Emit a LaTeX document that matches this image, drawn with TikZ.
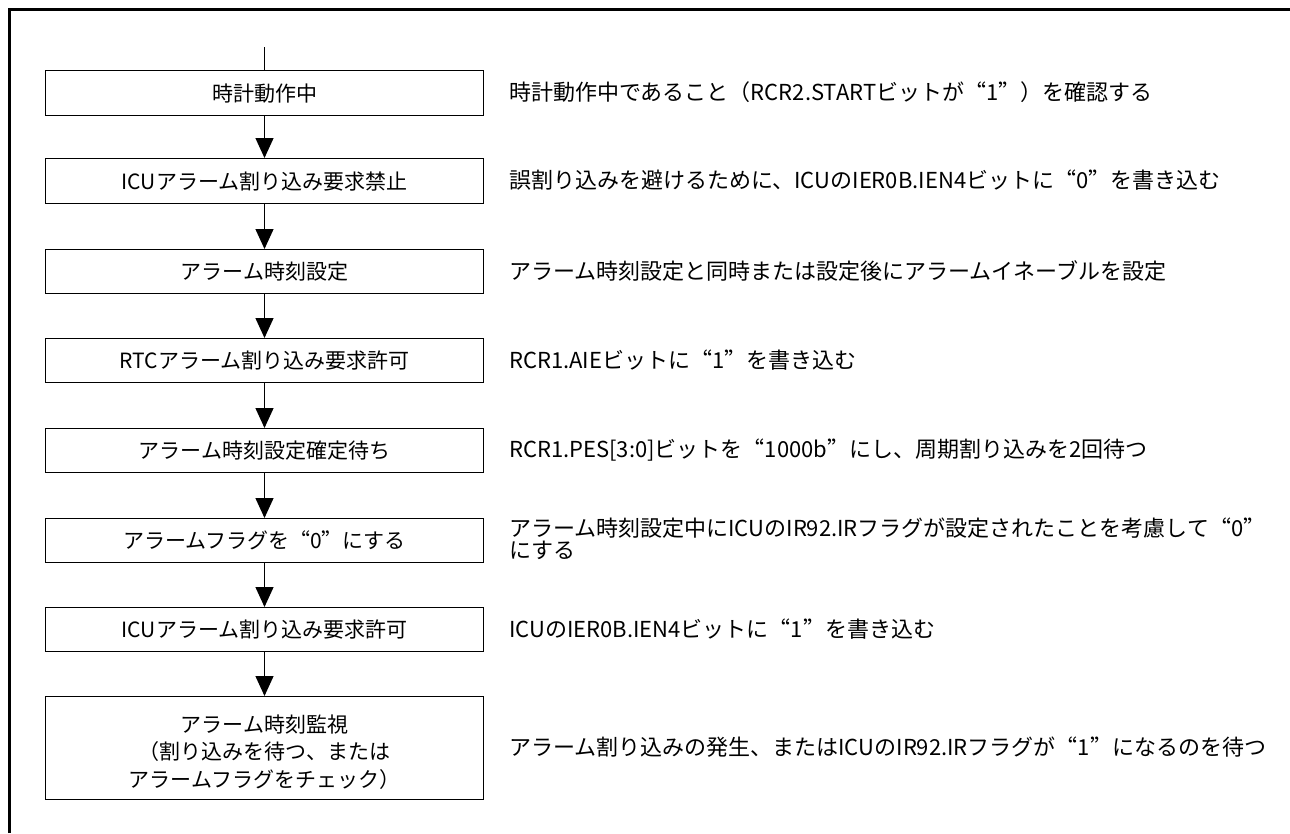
\documentclass[tikz,border=0pt]{standalone}
\usepackage{fontspec}
\setmainfont{Noto Sans CJK JP}
\usetikzlibrary{arrows.meta}
\newcommand{\fwq}[1]{{\addfontfeatures{CharacterWidth=Full}“}#1{\addfontfeatures{CharacterWidth=Full}”}}
\tikzset{
  stepbox/.style={draw, line width=1.4pt, minimum width=438pt, inner sep=0pt, anchor=north, font=\fontsize{21}{27}\selectfont, align=center},
  note/.style={anchor=west, inner sep=0pt, font=\fontsize{22}{22}\selectfont, align=left},
  flow/.style={line width=1.3pt, -{Triangle[length=20pt,width=18pt]}},
}
\begin{document}
\begin{tikzpicture}[x=1pt,y=-1pt]
\useasboundingbox (0,0) rectangle (1290,833);
% frame
\draw[line width=3.5pt] (9.5,833) -- (9.5,9.5) -- (1290,9.5);
% boxes
\node[stepbox, minimum height=45pt] (b1) at (264.5,70) {時計動作中};
\node[stepbox, minimum height=45pt] (b2) at (264.5,158) {ICUアラーム割り込み要求禁止};
\node[stepbox, minimum height=44pt] (b3) at (264.5,249) {アラーム時刻設定};
\node[stepbox, minimum height=44pt] (b4) at (264.5,338) {RTCアラーム割り込み要求許可};
\node[stepbox, minimum height=44pt] (b5) at (264.5,428) {アラーム時刻設定確定待ち};
\node[stepbox, minimum height=44pt] (b6) at (264.5,518) {アラームフラグを\fwq{0}にする};
\node[stepbox, minimum height=44pt] (b7) at (264.5,607) {ICUアラーム割り込み要求許可};
\node[stepbox, minimum height=103pt] (b8) at (264.5,696) {};
\node[font=\fontsize{21}{27.5}\selectfont, align=center, inner sep=0pt] (t8) at (264.5,752) {アラーム時刻監視\\（割り込みを待つ、または\\アラームフラグをチェック）};
% connectors
\coordinate (start) at (264.5,47);
\draw[line width=1.3pt] (start) -- (b1.north);
\draw[flow] (b1.south) -- (b2.north);
\draw[flow] (b2.south) -- (b3.north);
\draw[flow] (b3.south) -- (b4.north);
\draw[flow] (b4.south) -- (b5.north);
\draw[flow] (b5.south) -- (b6.north);
\draw[flow] (b6.south) -- (b7.north);
\draw[flow] (b7.south) -- (b8.north);
% notes
\node[note] (n1) at (509,92.5) {時計動作中であること（RCR2.STARTビットが\fwq{1}）を確認する};
\node[note] (n2) at (509,180.5) {誤割り込みを避けるために、ICUのIER0B.IEN4ビットに\fwq{0}を書き込む};
\node[note] (n3) at (509,271) {アラーム時刻設定と同時または設定後にアラームイネーブルを設定};
\node[note] (n4) at (509,360) {RCR1.AIEビットに\fwq{1}を書き込む};
\node[note] (n5) at (509,450) {RCR1.PES[3:0]ビットを\fwq{1000b}にし、周期割り込みを2回待つ};
\node[note] (n6) at (509,539) {アラーム時刻設定中にICUのIR92.IRフラグが設定されたことを考慮して\fwq{0}\\にする};
\node[note] (n7) at (509,629) {ICUのIER0B.IEN4ビットに\fwq{1}を書き込む};
\node[note] (n8) at (509,747.5) {アラーム割り込みの発生、またはICUのIR92.IRフラグが\fwq{1}になるのを待つ};
\end{tikzpicture}
\end{document}
